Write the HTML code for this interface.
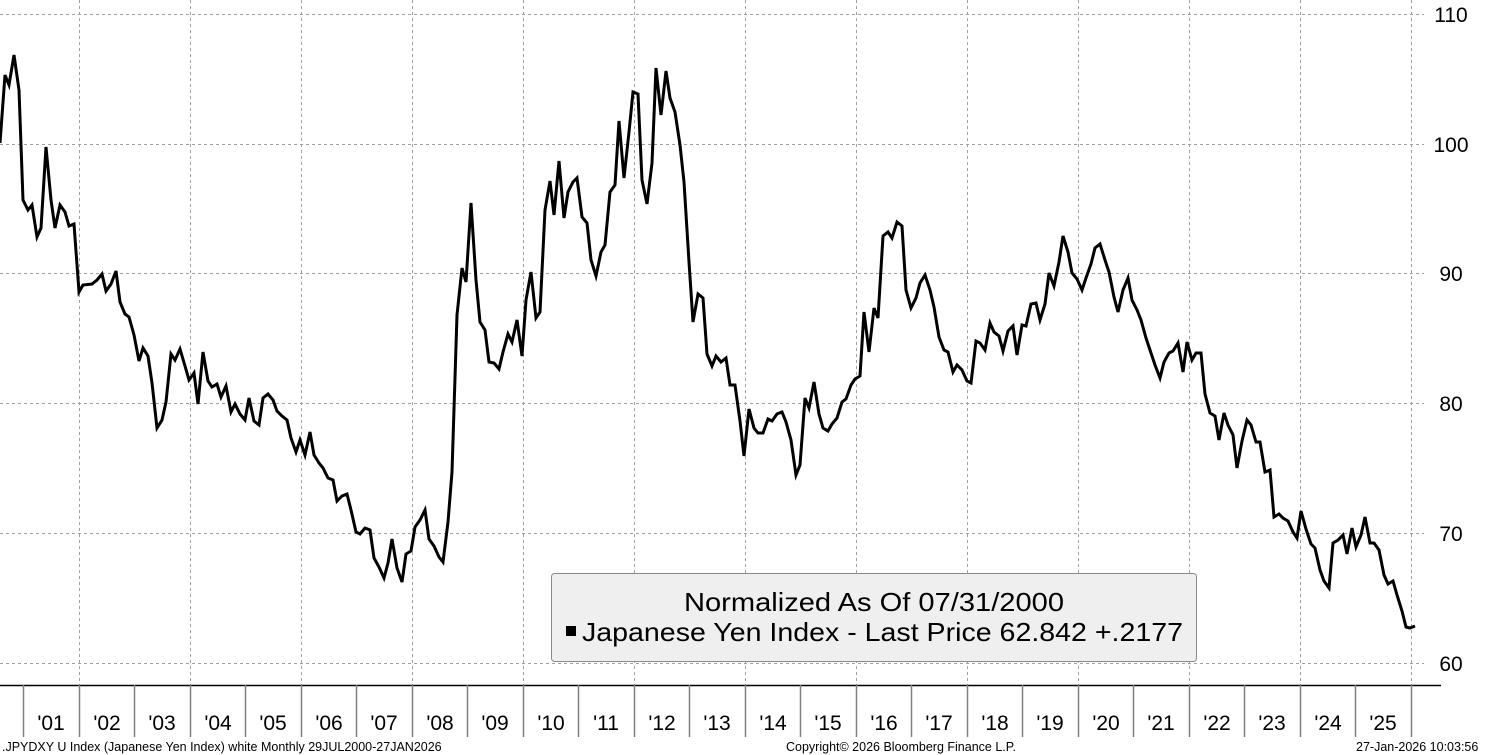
<!DOCTYPE html>
<html><head><meta charset="utf-8"><style>
html,body{margin:0;padding:0;background:#fff;}
svg{display:block;font-family:"Liberation Sans",sans-serif;}
</style></head><body>
<svg width="1489" height="755" viewBox="0 0 1489 755" xmlns="http://www.w3.org/2000/svg">
<g stroke="#a0a0a0" stroke-width="1" stroke-dasharray="3,3">
<line x1="0" y1="14.5" x2="1424" y2="14.5"/>
<line x1="0" y1="144.5" x2="1424" y2="144.5"/>
<line x1="0" y1="273.5" x2="1424" y2="273.5"/>
<line x1="0" y1="403.5" x2="1424" y2="403.5"/>
<line x1="0" y1="533.5" x2="1424" y2="533.5"/>
<line x1="0" y1="663.5" x2="1424" y2="663.5"/>
<line x1="79.5" y1="0" x2="79.5" y2="685"/><line x1="190.5" y1="0" x2="190.5" y2="685"/>
<line x1="301.5" y1="0" x2="301.5" y2="685"/><line x1="412.5" y1="0" x2="412.5" y2="685"/>
<line x1="523.5" y1="0" x2="523.5" y2="685"/><line x1="634.5" y1="0" x2="634.5" y2="685"/>
<line x1="745.5" y1="0" x2="745.5" y2="685"/><line x1="856.5" y1="0" x2="856.5" y2="685"/>
<line x1="967.5" y1="0" x2="967.5" y2="685"/><line x1="1078.5" y1="0" x2="1078.5" y2="685"/>
<line x1="1189.5" y1="0" x2="1189.5" y2="685"/><line x1="1300.5" y1="0" x2="1300.5" y2="685"/>
<line x1="1411.5" y1="0" x2="1411.5" y2="685"/>
</g>
<line x1="0" y1="685.5" x2="1441" y2="685.5" stroke="#000" stroke-width="1.5"/>
<g stroke="#808080" stroke-width="1.5">
<line x1="23.5" y1="685" x2="23.5" y2="737"/><line x1="79.5" y1="685" x2="79.5" y2="737"/>
<line x1="134.5" y1="685" x2="134.5" y2="737"/><line x1="190.5" y1="685" x2="190.5" y2="737"/>
<line x1="245.5" y1="685" x2="245.5" y2="737"/><line x1="301.5" y1="685" x2="301.5" y2="737"/>
<line x1="356.5" y1="685" x2="356.5" y2="737"/><line x1="412.5" y1="685" x2="412.5" y2="737"/>
<line x1="467.5" y1="685" x2="467.5" y2="737"/><line x1="523.5" y1="685" x2="523.5" y2="737"/>
<line x1="578.5" y1="685" x2="578.5" y2="737"/><line x1="634.5" y1="685" x2="634.5" y2="737"/>
<line x1="689.5" y1="685" x2="689.5" y2="737"/><line x1="745.5" y1="685" x2="745.5" y2="737"/>
<line x1="800.5" y1="685" x2="800.5" y2="737"/><line x1="856.5" y1="685" x2="856.5" y2="737"/>
<line x1="911.5" y1="685" x2="911.5" y2="737"/><line x1="967.5" y1="685" x2="967.5" y2="737"/>
<line x1="1022.5" y1="685" x2="1022.5" y2="737"/><line x1="1078.5" y1="685" x2="1078.5" y2="737"/>
<line x1="1133.5" y1="685" x2="1133.5" y2="737"/><line x1="1189.5" y1="685" x2="1189.5" y2="737"/>
<line x1="1244.5" y1="685" x2="1244.5" y2="737"/><line x1="1300.5" y1="685" x2="1300.5" y2="737"/>
<line x1="1355.5" y1="685" x2="1355.5" y2="737"/><line x1="1411.5" y1="685" x2="1411.5" y2="737"/>
</g>
<g font-size="21" fill="#000" text-anchor="middle">
<text x="51" y="730">'01</text><text x="107" y="730">'02</text><text x="162" y="730">'03</text>
<text x="218" y="730">'04</text><text x="273" y="730">'05</text><text x="329" y="730">'06</text>
<text x="384" y="730">'07</text><text x="440" y="730">'08</text><text x="495" y="730">'09</text>
<text x="551" y="730">'10</text><text x="606" y="730">'11</text><text x="662" y="730">'12</text>
<text x="717" y="730">'13</text><text x="773" y="730">'14</text><text x="828" y="730">'15</text>
<text x="884" y="730">'16</text><text x="939" y="730">'17</text><text x="995" y="730">'18</text>
<text x="1050" y="730">'19</text><text x="1106" y="730">'20</text><text x="1161" y="730">'21</text>
<text x="1217" y="730">'22</text><text x="1272" y="730">'23</text><text x="1328" y="730">'24</text>
<text x="1383" y="730">'25</text>
</g>
<g font-size="21" fill="#000" text-anchor="middle">
<text x="1451" y="22">110</text><text x="1451" y="152">100</text><text x="1451" y="281">90</text>
<text x="1451" y="411">80</text><text x="1451" y="541">70</text><text x="1451" y="671">60</text>
</g>
<polyline fill="none" stroke="#000" stroke-width="3" stroke-linejoin="miter" points="0,143 5,75 9,85 14,55 19,90 23,200 28,210 32,205 37,237 41,228 46,147 51,200 55,228 60,205 65,212 69,226 74,224 79,292 83,285 92,284 97,280 102,274 106,291 111,284 116,271 120,302 125,314 129,317 134,335 139,361 143,348 148,356 152,383 157,428 162,420 166,402 171,354 175,360 180,349 185,366 189,380 194,373 198,404 203,352 208,381 212,387 217,384 221,397 226,386 231,412 235,404 240,414 245,420 249,398 254,421 259,425 263,398 268,394 273,400 277,411 282,416 287,420 291,438 296,452 300,440 305,455 310,432 314,455 319,463 323,468 328,478 333,480 337,501 342,496 347,494 351,510 356,532 360,534 365,528 370,530 374,558 379,567 384,578 388,563 392,539 397,568 402,582 406,554 411,551 415,527 420,520 425,510 429,539 434,546 439,557 443,562 448,522 452,472 457,315 462,268 466,282 471,203 476,280 480,322 485,330 489,362 494,363 499,369 503,352 508,334 512,342 517,320 522,356 526,300 531,272 536,318 540,312 545,210 550,181 554,215 559,161 564,218 568,192 573,182 577,178 582,217 587,223 591,260 596,276 601,252 605,245 610,192 615,185 619,121 624,178 629,132 633,92 638,94 642,180 647,204 652,163 656,68 661,115 666,71 670,98 675,112 680,145 684,182 689,262 693,322 698,294 703,298 707,354 712,366 716,356 721,362 726,358 730,385 735,385 740,421 744,456 749,409 754,428 758,433 763,433 768,419 772,421 777,414 782,412 786,422 791,440 796,475 800,465 805,398 809,408 814,382 819,414 823,428 828,431 832,424 837,418 842,402 846,399 851,385 855,379 860,376 864,312 869,352 874,308 878,318 883,236 888,232 892,238 897,222 902,226 906,290 911,308 916,298 920,283 925,275 930,290 934,307 939,337 944,350 948,352 953,372 957,365 962,370 967,381 971,383 976,341 980,343 985,350 990,323 994,332 999,336 1003,351 1008,331 1013,326 1017,355 1022,325 1026,326 1031,304 1036,303 1040,320 1045,304 1049,273 1054,286 1059,262 1063,236 1068,252 1072,273 1077,279 1082,290 1086,278 1091,264 1095,248 1100,244 1105,260 1109,272 1114,297 1118,312 1123,290 1128,278 1132,300 1137,310 1141,320 1146,338 1151,353 1155,365 1160,378 1164,362 1169,353 1173,351 1178,343 1183,372 1187,342 1192,360 1196,353 1201,353 1205,394 1210,413 1215,416 1219,440 1224,413 1228,425 1233,435 1237,468 1242,441 1247,420 1251,425 1256,442 1260,442 1265,472 1270,470 1274,517 1279,514 1283,518 1288,521 1293,532 1297,538 1301,511 1306,529 1311,544 1315,548 1320,570 1324,581 1329,588 1333,543 1338,540 1343,535 1347,554 1352,528 1356,547 1361,535 1365,517 1370,543 1374,543 1379,550 1384,575 1388,584 1393,581 1397,595 1402,611 1406,627 1410,628 1415,626"/>
<rect x="551.5" y="573.5" width="645" height="88" rx="3" fill="#efefef" stroke="#8a8a8a" stroke-width="1"/>
<text x="684" y="611" font-size="26" fill="#000" textLength="380" lengthAdjust="spacingAndGlyphs">Normalized As Of 07/31/2000</text>
<rect x="566" y="626" width="10" height="10" fill="#000"/>
<text x="582" y="641" font-size="26" fill="#000" textLength="601" lengthAdjust="spacingAndGlyphs">Japanese Yen Index - Last Price 62.842 +.2177</text>
<g font-size="12.5" fill="#000">
<text x="2" y="751">.JPYDXY U Index (Japanese Yen Index) white Monthly 29JUL2000-27JAN2026</text>
<text x="786" y="751">Copyright© 2026 Bloomberg Finance L.P.</text>
<text x="1356" y="751">27-Jan-2026 10:03:56</text>
</g>
</svg>
</body></html>
